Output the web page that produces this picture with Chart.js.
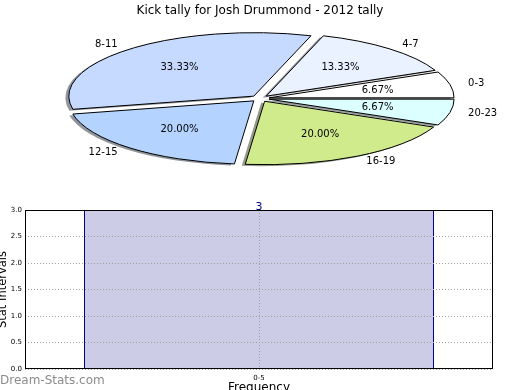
<!DOCTYPE html>
<html><head><meta charset="utf-8">
<script src="https://cdn.jsdelivr.net/npm/chart.js@4"></script>
<style>
html,body{margin:0;padding:0;background:#fff;}
#wrap{position:relative;width:520px;height:390px;overflow:hidden;}
canvas{position:absolute;left:0;top:0;}
</style>
</head><body>
<div id="wrap"><canvas id="bar" width="520" height="390"></canvas><canvas id="pie" width="520" height="390"></canvas></div>
<script>
// ---- data ----
const pieTitle = 'Kick tally for Josh Drummond - 2012 tally';
const pieCategories = ['0-3', '4-7', '8-11', '12-15', '16-19', '20-23'];
const piePercentages = [6.67, 13.33, 33.33, 20.00, 20.00, 6.67];
const pieColors = ['#ffffff', '#ebf2ff', '#c6d9ff', '#b4d4ff', '#d0eb8c', '#dcffff'];

const barCategories = ['0-5'];
const barValues = [3];
const yTickValues = [0, 0.5, 1, 1.5, 2, 2.5, 3];
const yTickLabels = ['0.0', '0.5', '1.0', '1.5', '2.0', '2.5', '3.0'];
const xAxisTitle = 'Frequency';
const yAxisTitle = 'Stat Intervals';
const watermark = 'Dream-Stats.com';

// ---- layout / style ----
const FONT = 'DejaVu Sans';
Chart.defaults.font.family = FONT;
const PIE_CX = 260, PIE_CY = 98.5, PIE_R = 185, PIE_SY = 0.343, EXPLODE = 9.25;
const SH_DX = -3.5, SH_DY = 1.5;

function shadowOf(hex) {
  const n = parseInt(hex.slice(1), 16);
  const r = (n >> 16) & 255, g = (n >> 8) & 255, b = n & 255;
  return `rgba(${Math.round(r*0.3)},${Math.round(g*0.3)},${Math.round(b*0.3)},0.55)`;
}

// Chart.js draws clockwise from 3 o'clock with rotation 90; reverse to mimic counter-clockwise order
const revLabels = pieCategories.slice().reverse();
const revValues = piePercentages.slice().reverse();
const revColors = pieColors.slice().reverse();

const ellipsePie = {
  id: 'ellipsePie',
  beforeDatasetsDraw(chart) {
    const ctx = chart.ctx;
    const arcs = chart.getDatasetMeta(0).data;
    if (!arcs.length) return false;
    const cx0 = arcs[0].x, cy0 = arcs[0].y;
    const apply = () => { ctx.translate(PIE_CX, PIE_CY); ctx.scale(1, PIE_SY); ctx.translate(-cx0, -cy0); };
    const mid = a => (a.startAngle + a.endAngle) / 2;
    const path = a => {
      const m = mid(a);
      const ox = a.x + Math.cos(m) * EXPLODE, oy = a.y + Math.sin(m) * EXPLODE;
      ctx.beginPath(); ctx.moveTo(ox, oy);
      ctx.arc(ox, oy, a.outerRadius, a.startAngle, a.endAngle);
      ctx.closePath();
    };
    // shadows
    arcs.forEach((a, i) => {
      ctx.save(); ctx.translate(SH_DX, SH_DY); apply(); path(a);
      ctx.fillStyle = shadowOf(revColors[i]); ctx.fill(); ctx.restore();
    });
    // fills by the library's arc element
    arcs.forEach(a => {
      const m = mid(a);
      ctx.save(); apply(); ctx.translate(Math.cos(m) * EXPLODE, Math.sin(m) * EXPLODE);
      a.draw(ctx); ctx.restore();
    });
    // outlines, stroked without vertical squash
    arcs.forEach(a => {
      ctx.save(); apply(); path(a); ctx.restore();
      ctx.save(); ctx.lineWidth = 1; ctx.strokeStyle = '#000'; ctx.lineJoin = 'miter'; ctx.stroke(); ctx.restore();
    });
    // labels
    ctx.save();
    ctx.font = `10px "${FONT}"`; ctx.fillStyle = '#000'; ctx.textBaseline = 'middle';
    arcs.forEach((a, i) => {
      const m = mid(a), c = Math.cos(m), s = Math.sin(m);
      const bx = Math.cos(m) * EXPLODE, by = Math.sin(m) * EXPLODE;
      const toScreen = (dist) => [PIE_CX + bx + c * a.outerRadius * dist, PIE_CY + (by + s * a.outerRadius * dist) * PIE_SY];
      let [lx, ly] = toScreen(1.1);
      ctx.textAlign = c > 0 ? 'left' : 'right';
      ctx.fillText(revLabels[i], lx, ly);
      let [px, py] = toScreen(0.6);
      ctx.textAlign = 'center';
      ctx.fillText(revValues[i].toFixed(2) + '%', px, py);
    });
    ctx.restore();
    return false;
  },
  afterDraw(chart) {
    const ctx = chart.ctx;
    ctx.save();
    ctx.font = `12px "${FONT}"`; ctx.fillStyle = '#000'; ctx.textAlign = 'center'; ctx.textBaseline = 'alphabetic';
    ctx.fillText(pieTitle, 260, 14);
    ctx.restore();
  }
};

new Chart(document.getElementById('pie'), {
  type: 'pie',
  data: { labels: revLabels, datasets: [{ data: revValues, backgroundColor: revColors, borderWidth: 0, rotation: 90, radius: PIE_R }] },
  options: {
    responsive: false, animation: false, events: [],
    rotation: 90, radius: PIE_R,
    layout: { padding: 0 },
    plugins: { legend: { display: false }, tooltip: { enabled: false }, title: { display: false } }
  },
  plugins: [ellipsePie]
});

const barDecor = {
  id: 'barDecor',
  afterDatasetsDraw(chart) {
    const ctx = chart.ctx;
    const el = chart.getDatasetMeta(0).data[0];
    ctx.save();
    ctx.font = `11px "${FONT}"`; ctx.fillStyle = '#000080'; ctx.textAlign = 'center'; ctx.textBaseline = 'alphabetic';
    ctx.fillText(String(barValues[0]), el.x, el.y);
    ctx.restore();
  },
  afterDraw(chart) {
    const ctx = chart.ctx, a = chart.chartArea;
    ctx.save();
    ctx.strokeStyle = '#000'; ctx.lineWidth = 1;
    ctx.strokeRect(Math.round(a.left) + 0.5, Math.round(a.top) + 0.5, Math.round(a.right - a.left) - 1, Math.round(a.bottom - a.top) - 1);
    ctx.fillStyle = '#000'; ctx.font = `12px "${FONT}"`; ctx.textAlign = 'center'; ctx.textBaseline = 'alphabetic';
    ctx.fillText(xAxisTitle, (a.left + a.right) / 2, 391);
    ctx.save(); ctx.translate(6, (a.top + a.bottom) / 2); ctx.rotate(-Math.PI / 2);
    ctx.font = `11.5px "${FONT}"`;
    ctx.fillText(yAxisTitle, 0, 0); ctx.restore();
    ctx.fillStyle = '#8c8c8c'; ctx.textAlign = 'left'; ctx.font = `12px "${FONT}"`;
    ctx.fillText(watermark, 0, 384);
    ctx.restore();
  }
};

new Chart(document.getElementById('bar'), {
  type: 'bar',
  data: { labels: barCategories, datasets: [{ data: barValues, backgroundColor: '#ccccE6', borderColor: '#000080', borderWidth: 1, barPercentage: 0.7479, categoryPercentage: 1 }] },
  options: {
    responsive: false, animation: false, events: [],
    layout: { padding: { top: 210, right: 27, left: 0, bottom: 0 } },
    plugins: { legend: { display: false }, tooltip: { enabled: false } },
    scales: {
      x: {
        type: 'category', offset: true,
        grid: { offset: false, color: '#a0a0a0', lineWidth: 1, drawTicks: false, z: 1 },
        border: { display: false, dash: [1, 2] },
        ticks: { font: { size: 7, family: FONT }, color: '#000', padding: 5 },
        afterFit: s => { s.height = 21; }
      },
      y: {
        min: 0, max: 3,
        afterBuildTicks: s => { s.ticks = yTickValues.map(v => ({ value: v })); },
        grid: { color: '#a0a0a0', lineWidth: 1, drawTicks: false, z: 1 },
        border: { display: false, dash: [1, 2] },
        ticks: { font: { size: 7, family: FONT }, color: '#000', padding: 3, callback: (v, i) => yTickLabels[i] },
        afterFit: s => { s.width = 25; }
      }
    }
  },
  plugins: [barDecor]
});
</script>
</body></html>
